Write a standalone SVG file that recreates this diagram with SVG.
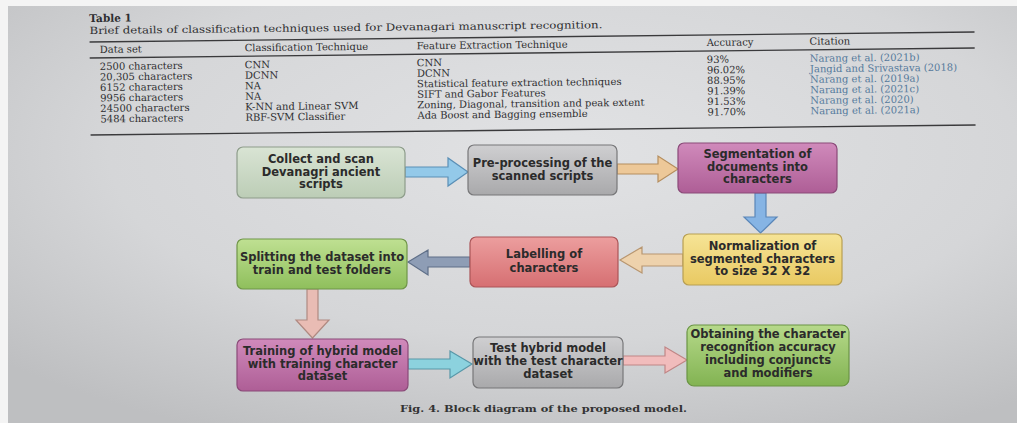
<svg xmlns="http://www.w3.org/2000/svg" width="1017" height="423" viewBox="0 0 1017 423">
<defs>
<radialGradient id="bg" cx="0.55" cy="0.35" r="0.75">
<stop offset="0" stop-color="#e1e2e4"/>
<stop offset="0.6" stop-color="#d5d6d8"/>
<stop offset="1" stop-color="#bebfc1"/>
</radialGradient>
<linearGradient id="gGreyGreen" x1="0" y1="0" x2="0" y2="1"><stop offset="0" stop-color="#d9e4d4"/><stop offset="1" stop-color="#bccdb6"/></linearGradient>
<linearGradient id="gGrey" x1="0" y1="0" x2="0" y2="1"><stop offset="0" stop-color="#cfcfd1"/><stop offset="1" stop-color="#a9a9ab"/></linearGradient>
<linearGradient id="gMag" x1="0" y1="0" x2="0" y2="1"><stop offset="0" stop-color="#d08abb"/><stop offset="1" stop-color="#ae5e96"/></linearGradient>
<linearGradient id="gYel" x1="0" y1="0" x2="0" y2="1"><stop offset="0" stop-color="#f6e496"/><stop offset="1" stop-color="#e9c962"/></linearGradient>
<linearGradient id="gRed" x1="0" y1="0" x2="0" y2="1"><stop offset="0" stop-color="#ec9e9e"/><stop offset="1" stop-color="#d66f72"/></linearGradient>
<linearGradient id="gGreen" x1="0" y1="0" x2="0" y2="1"><stop offset="0" stop-color="#bfe092"/><stop offset="1" stop-color="#8fbf5c"/></linearGradient>
<linearGradient id="gGreen2" x1="0" y1="0" x2="0" y2="1"><stop offset="0" stop-color="#b6d98a"/><stop offset="1" stop-color="#82b352"/></linearGradient>
</defs>
<style>
.tb{font-family:"DejaVu Serif","Liberation Serif",serif;fill:#2e2e30;font-size:10px}
.th{font-weight:bold;font-size:10.5px}
.cit{fill:#557a9c}
.rule{stroke:#3a3a3c;stroke-width:1.4}
.node rect{stroke-width:1.2}
.nt{font-family:"DejaVu Sans","Liberation Sans",sans-serif;font-weight:bold;font-size:11.5px;fill:#2b2b2b;text-anchor:middle}
.arrow{stroke-width:1.2;stroke-linejoin:miter}
.cap{font-family:"DejaVu Serif","Liberation Serif",serif;font-weight:bold;font-size:10px;fill:#333}
</style>
<rect x="0" y="0" width="1017" height="423" fill="#f4f4f4"/>
<rect x="8" y="6" width="1009" height="417" fill="url(#bg)"/>

<g id="table" transform="rotate(-0.65 530 80)">
<text class="tb th" x="90" y="17">Table 1</text>
<text class="tb" x="90" y="29" font-size="10.5" textLength="513" lengthAdjust="spacingAndGlyphs">Brief details of classification techniques used for Devanagari manuscript recognition.</text>
<line class="rule" x1="90" y1="37" x2="975" y2="37"/>
<text class="tb" x="100" y="48">Data set</text>
<text class="tb" x="245" y="48">Classification Technique</text>
<text class="tb" x="417" y="48">Feature Extraction Technique</text>
<text class="tb" x="707" y="48">Accuracy</text>
<text class="tb" x="810" y="48">Citation</text>
<line class="rule" x1="90" y1="53" x2="975" y2="53" stroke-width="1"/>
<g class="tb">
<text x="100" y="65">2500 characters</text>
<text x="100" y="75.5">20,305 characters</text>
<text x="100" y="86">6152 characters</text>
<text x="100" y="96.5">9956 characters</text>
<text x="100" y="107">24500 characters</text>
<text x="100" y="117.5">5484 characters</text>
<text x="245" y="65">CNN</text>
<text x="245" y="75.5">DCNN</text>
<text x="245" y="86">NA</text>
<text x="245" y="96.5">NA</text>
<text x="245" y="107">K-NN and Linear SVM</text>
<text x="245" y="117.5">RBF-SVM Classifier</text>
<text x="417" y="65">CNN</text>
<text x="417" y="75.5">DCNN</text>
<text x="417" y="86">Statistical feature extraction techniques</text>
<text x="417" y="96.5">SIFT and Gabor Features</text>
<text x="417" y="107">Zoning, Diagonal, transition and peak extent</text>
<text x="417" y="117.5">Ada Boost and Bagging ensemble</text>
<text x="707" y="65">93%</text>
<text x="707" y="75.5">96.02%</text>
<text x="707" y="86">88.95%</text>
<text x="707" y="96.5">91.39%</text>
<text x="707" y="107">91.53%</text>
<text x="707" y="117.5">91.70%</text>
</g>
<g class="tb cit">
<text x="810" y="65">Narang et al. (2021b)</text>
<text x="810" y="75.5">Jangid and Srivastava (2018)</text>
<text x="810" y="86">Narang et al. (2019a)</text>
<text x="810" y="96.5">Narang et al. (2021c)</text>
<text x="810" y="107">Narang et al. (2020)</text>
<text x="810" y="117.5">Narang et al. (2021a)</text>
</g>
<line class="rule" x1="90" y1="130" x2="975" y2="130"/>
</g>

<g id="connectors">
<polygon class="arrow" fill="#93c9e9" stroke="#5a8fb6" points="405,167 448,167 448,158 468,172 448,186 448,177 405,177"/>
<polygon class="arrow" fill="#edc898" stroke="#b58e5e" points="617,164 658,164 658,156 678,169 658,182 658,174 617,174"/>
<polygon class="arrow" fill="#86b4e4" stroke="#5a86b8" points="755,193 766,193 766,217 777,217 760.5,233 744,217 755,217"/>
<polygon class="arrow" fill="#eed2ac" stroke="#b89670" points="683,254 642,254 642,247 620,260 642,273 642,266 683,266"/>
<polygon class="arrow" fill="#8e9db5" stroke="#5f6f88" points="470,257 428,257 428,250 408,262 428,275 428,267 470,267"/>
<polygon class="arrow" fill="#e9bcb4" stroke="#b08a82" points="307,289 318,289 318,320 329,320 312.5,338 296,320 307,320"/>
<polygon class="arrow" fill="#8cd2de" stroke="#5897a8" points="408,359 450,359 450,351 472,364 450,378 450,369 408,369"/>
<polygon class="arrow" fill="#f1bcbc" stroke="#c08686" points="623,356 665,356 665,347 687,360 665,373 665,365 623,365"/>
</g>

<g id="n1" class="node">
<rect x="237" y="147" width="168" height="51" rx="6" fill="url(#gGreyGreen)" stroke="#8d9c8a"/>
<text class="nt" x="321" y="163">Collect and scan</text>
<text class="nt" x="321" y="175.5">Devanagri ancient</text>
<text class="nt" x="321" y="188">scripts</text>
</g>
<g id="n2" class="node">
<rect x="468" y="145" width="149" height="50" rx="6" fill="url(#gGrey)" stroke="#777779"/>
<text class="nt" x="542.5" y="167">Pre-processing of the</text>
<text class="nt" x="542.5" y="180">scanned scripts</text>
</g>
<g id="n3" class="node">
<rect x="678" y="143" width="159" height="50" rx="6" fill="url(#gMag)" stroke="#8a4a78"/>
<text class="nt" x="757.5" y="158">Segmentation of</text>
<text class="nt" x="757.5" y="170.5">documents into</text>
<text class="nt" x="757.5" y="183">characters</text>
</g>
<g id="n4" class="node">
<rect x="683" y="234" width="159" height="51" rx="6" fill="url(#gYel)" stroke="#b89f52"/>
<text class="nt" x="762.5" y="250">Normalization of</text>
<text class="nt" x="762.5" y="262.5">segmented characters</text>
<text class="nt" x="762.5" y="275">to size 32 X 32</text>
</g>
<g id="n5" class="node">
<rect x="470" y="237" width="148" height="50" rx="6" fill="url(#gRed)" stroke="#ab5558"/>
<text class="nt" x="544" y="258">Labelling of</text>
<text class="nt" x="544" y="271.5">characters</text>
</g>
<g id="n6" class="node">
<rect x="237" y="239" width="170" height="50" rx="6" fill="url(#gGreen)" stroke="#6f9548"/>
<text class="nt" x="322" y="261">Splitting the dataset into</text>
<text class="nt" x="322" y="274">train and test folders</text>
</g>
<g id="n7" class="node">
<rect x="237" y="339" width="171" height="52" rx="6" fill="url(#gMag)" stroke="#8a4a78"/>
<text class="nt" x="322.5" y="355">Training of hybrid model</text>
<text class="nt" x="322.5" y="367.5">with training character</text>
<text class="nt" x="322.5" y="380">dataset</text>
</g>
<g id="n8" class="node">
<rect x="473" y="337" width="150" height="51" rx="6" fill="url(#gGrey)" stroke="#777779"/>
<text class="nt" x="548" y="352">Test hybrid model</text>
<text class="nt" x="548" y="365">with the test character</text>
<text class="nt" x="548" y="378">dataset</text>
</g>
<g id="n9" class="node">
<rect x="687" y="325" width="162" height="61" rx="7" fill="url(#gGreen2)" stroke="#6a9444"/>
<text class="nt" x="768" y="338">Obtaining the character</text>
<text class="nt" x="768" y="351">recognition accuracy</text>
<text class="nt" x="768" y="364">including conjuncts</text>
<text class="nt" x="768" y="377">and modifiers</text>
</g>

<text class="cap" x="400" y="412" textLength="287" lengthAdjust="spacingAndGlyphs">Fig. 4.  Block diagram of the proposed model.</text>
</svg>
